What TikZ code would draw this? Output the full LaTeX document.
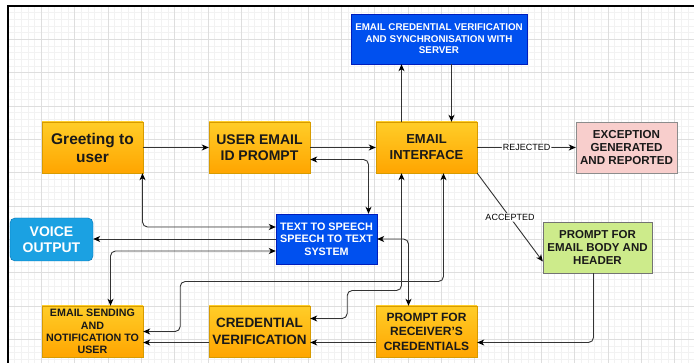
\documentclass[tikz,border=0pt]{standalone}
\usepackage{fontspec}
\setsansfont{Liberation Sans}
\usetikzlibrary{arrows.meta}

\definecolor{orangetop}{HTML}{FFCD28}
\definecolor{orangebot}{HTML}{FFA500}
\definecolor{orangeline}{HTML}{D79B00}
\definecolor{darkblue}{HTML}{0050EF}
\definecolor{darkblueline}{HTML}{001DBC}
\definecolor{lightblue}{HTML}{1BA1E2}
\definecolor{lightblueline}{HTML}{006EAF}
\definecolor{pinkfill}{HTML}{F8CECC}
\definecolor{greenfill}{HTML}{CDEB8B}
\definecolor{linegray}{HTML}{333333}

\newcommand\boxfont[2]{\sffamily\bfseries\fontsize{#1}{#2}\selectfont}

\tikzset{
  ctip/.tip={Stealth[length=7pt,width=6pt,inset=2pt,color=black]},
  minorgrid/.style={draw=black!5, line width=0.4pt},
  majorgrid/.style={draw=black!13, line width=0.6pt},
  obox/.style={draw=orangeline, top color=orangetop, bottom color=orangebot,
    minimum width=101pt, minimum height=51pt, inner sep=1pt, align=center, text=black!90},
  bbox/.style={draw=darkblueline, fill=darkblue, inner sep=1pt, align=center, text=white},
  link/.style={draw=linegray, line width=0.9pt, rounded corners=5pt, -ctip},
  both/.style={link, ctip-ctip},
  lbl/.style={fill=white, inner sep=1pt, font=\sffamily\fontsize{9}{10}\selectfont, text=black}
}

\begin{document}
\begin{tikzpicture}[x=1pt,y=-1pt]
\useasboundingbox (0,0) rectangle (694,363);
\begin{scope}[shift={(8,6)}]
\draw[minorgrid] (0,357) grid[step=6.6667pt] (686,0);
\draw[majorgrid] (0,357) grid[step=33.3333pt] (686,0);
\end{scope}
\draw[line width=1.6pt] (694,6) -- (8,6) -- (8,363);

\node[obox, font=\boxfont{15.5}{18}] (greet) at (92.5,147.5) {Greeting to\\user};
\node[obox, font=\boxfont{14}{16.5}] (uid) at (259.5,147.5) {USER EMAIL\\ID PROMPT};
\node[obox, font=\boxfont{13}{16}] (iface) at (426.5,147.5) {EMAIL\\INTERFACE};
\node[bbox, minimum width=176pt, minimum height=50pt, font=\boxfont{9.8}{11.5}] (sync) at (439,39)
  {EMAIL CREDENTIAL VERIFICATION\\AND SYNCHRONISATION WITH\\SERVER};
\node[draw=black!45, fill=pinkfill, minimum width=101pt, minimum height=51pt, inner sep=1pt,
  align=center, text=black!90, font=\boxfont{11.6}{13.3}] (exc) at (626.5,147.5)
  {EXCEPTION\\GENERATED\\AND REPORTED};
\node[draw=lightblueline, fill=lightblue, rounded corners=5pt, minimum width=83pt, minimum height=43pt,
  inner sep=1pt, align=center, text=white, font=\boxfont{14}{16}] (voice) at (51.5,239.5) {VOICE\\OUTPUT};
\node[bbox, minimum width=101pt, minimum height=50pt, font=\boxfont{10.8}{12.3}] (tts) at (326.5,239)
  {TEXT TO SPEECH\\SPEECH TO TEXT\\SYSTEM};
\node[draw=black!55, fill=greenfill, minimum width=109pt, minimum height=51pt, inner sep=1pt,
  align=center, text=black!90, font=\boxfont{11.5}{13}] (body) at (597.5,247.5)
  {PROMPT FOR\\EMAIL BODY AND\\HEADER};
\node[obox, font=\boxfont{10.7}{12.3}] (send) at (92.5,331.5) {EMAIL SENDING\\AND\\NOTIFICATION TO\\USER};
\node[obox, font=\boxfont{13.5}{16.7}] (cred) at (259.5,331.5) {CREDENTIAL\\VERIFICATION};
\node[obox, font=\boxfont{12}{14.5}] (recv) at (426.5,331.5) {PROMPT FOR\\RECEIVER'S\\CREDENTIALS};

\draw[link] (greet) -- (uid);
\draw[link] (uid) -- (iface);
\draw[link] (iface) -- (exc) node[lbl, midway] {REJECTED};
\draw[link] ([xshift=-25pt]iface.north) -- ([xshift=-25pt]iface.north |- sync.south);
\draw[link] ([xshift=25pt]iface.north |- sync.south) -- ([xshift=25pt]iface.north);
\draw[link] (iface.south east) -- ([yshift=-14pt]body.west) node[lbl, midway] {ACCEPTED};
\draw[both] ([yshift=-12pt]uid.east) -| ([xshift=42pt]tts.north);
\draw[both] ([xshift=50pt]greet.south) |- ([yshift=12pt]tts.west);
\draw[link] (tts.west) -- (tts.west -| voice.east);
\draw[both] ([yshift=-12pt]tts.west) -| ([xshift=18pt]send.north);
\draw[both] (tts.east) -| ([xshift=-18pt]recv.north);
\draw[both] ([yshift=13pt]cred.east) -- ++(37,0) -- ++(0,-28) -| ([xshift=-25pt]iface.south);
\draw[both] (send.east) -- ++(37,0) -- ++(0,-50) -| ([xshift=17pt]iface.south);
\draw[link] ([yshift=-11pt]cred.west) -- ([yshift=-11pt]send.east);
\draw[link] ([yshift=-11pt]recv.west) -- ([yshift=-11pt]cred.east);
\draw[link] ([xshift=-4pt]body.south) |- ([yshift=-11pt]recv.east);
\end{tikzpicture}
\end{document}
